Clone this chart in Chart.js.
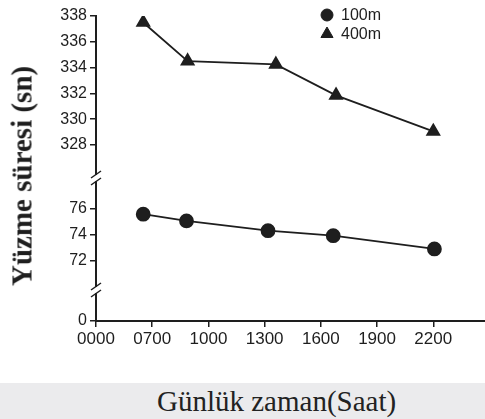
<!DOCTYPE html>
<html>
<head>
<meta charset="utf-8">
<script src="https://cdn.jsdelivr.net/npm/chart.js@4.4.1/dist/chart.umd.min.js"></script>
<style>
  html, body { margin: 0; padding: 0; background: #fff; }
  #wrap { position: relative; width: 485px; height: 419px; overflow: hidden; }
  #chartBox { position: absolute; left: 0; top: 0; width: 485px; height: 383px; }
  #ytitle { position: absolute; left: 22px; top: 176px; transform: translate(-50%, -50%) rotate(-90deg);
            font-family: "Liberation Serif", "Times New Roman", Times, serif; font-weight: bold; font-size: 29px;
            color: #1e1e1e; white-space: nowrap; }
  #band { position: absolute; left: 0; top: 383px; width: 485px; height: 36px; background: #ebebed; }
  #xtitle { position: absolute; left: 157px; top: 0; line-height: 36px; height: 36px;
            font-family: "Liberation Serif", "Times New Roman", Times, serif; font-size: 29px; color: #222; white-space: nowrap; }
</style>
</head>
<body>
<div id="wrap">
  <div id="chartBox"><canvas id="c"></canvas></div>
  <div id="ytitle">Yüzme süresi (sn)</div>
  <div id="band"><div id="xtitle">Günlük zaman(Saat)</div></div>
</div>
<script>
// ---- data ----
const xTickLabels = ['0000', '0700', '1000', '1300', '1600', '1900', '2200'];
const seriesNames = ['100m', '400m'];
// x positions in tick-index units (0 = 0000, 1 = 0700, ... 6 = 2200)
const x100 = [0.84, 1.61, 3.06, 4.22, 6.02];
const y100 = [75.6, 75.08, 74.33, 73.95, 72.93];
const x400 = [0.84, 1.63, 3.20, 4.27, 6.00];
const y400 = [337.5, 334.5, 334.25, 331.85, 329.05];
const topTicks = [328, 330, 332, 334, 336, 338];
const midTicks = [72, 74, 76];
const botTicks = [0];

const INK = '#1e1e1e';
const tickFont = { family: '"Liberation Sans", Arial, sans-serif', size: 16 };

function pts(xs, ys) { return xs.map((x, i) => ({ x: x, y: ys[i] })); }

function yScale(weight, stackWeight, min, max, ticksArr) {
  return {
    type: 'linear', position: 'left', stack: 'y', stackWeight: stackWeight, weight: weight,
    min: min, max: max,
    afterBuildTicks: s => { s.ticks = ticksArr.map(v => ({ value: v })); },
    afterFit: s => { s.width = 40; s.paddingTop = 0; s.paddingBottom = 0; },
    border: { display: true, color: INK, width: 2 },
    grid: { drawOnChartArea: false, drawTicks: true, tickLength: 6, color: INK, lineWidth: 1.5 },
    ticks: { color: INK, font: tickFont, padding: 3, autoSkip: false }
  };
}

const breakPlugin = {
  id: 'breaks',
  afterDraw(chart) {
    const ctx = chart.ctx;
    const s = chart.scales;
    const xAxis = s.yTop.right;
    const ys = [s.yTop.bottom, s.yMid.bottom];
    ctx.save();
    ys.forEach(b => {
      ctx.fillStyle = '#fff';
      ctx.fillRect(xAxis - 4, b - 3, 8, 6);
      ctx.strokeStyle = INK;
      ctx.lineWidth = 1.5;
      [-3.5, 3.5].forEach(d => {
        ctx.beginPath();
        ctx.moveTo(xAxis - 5, b + d + 3.5);
        ctx.lineTo(xAxis + 5, b + d - 3.5);
        ctx.stroke();
      });
    });
    ctx.restore();
  }
};

const legendPlugin = {
  id: 'customLegend',
  afterDraw(chart) {
    const ctx = chart.ctx;
    ctx.save();
    const items = [
      { style: 'circle', r: 6, y: 15, text: seriesNames[0] },
      { style: 'triangle', r: 7, y: 34, text: seriesNames[1] }
    ];
    items.forEach(it => {
      ctx.fillStyle = INK; ctx.strokeStyle = INK; ctx.lineWidth = 1;
      Chart.helpers.drawPoint(ctx, { pointStyle: it.style, radius: it.r, rotation: 0, borderWidth: 1 }, 327, it.y);
      ctx.fillStyle = INK;
      ctx.font = '16px "Liberation Sans", Arial, sans-serif';
      ctx.textBaseline = 'middle';
      ctx.textAlign = 'left';
      ctx.fillText(it.text, 341, it.y + 1);
    });
    ctx.restore();
  }
};

new Chart(document.getElementById('c'), {
  type: 'line',
  data: {
    datasets: [
      { label: seriesNames[0], data: pts(x100, y100), yAxisID: 'yMid',
        borderColor: INK, backgroundColor: INK, borderWidth: 1.8, pointStyle: 'circle',
        pointRadius: 6.5, pointBackgroundColor: INK, pointBorderColor: INK, tension: 0 },
      { label: seriesNames[1], data: pts(x400, y400), yAxisID: 'yTop',
        borderColor: INK, backgroundColor: INK, borderWidth: 1.8, pointStyle: 'triangle',
        pointRadius: 7, pointBackgroundColor: INK, pointBorderColor: INK, tension: 0 }
    ]
  },
  options: {
    responsive: true, maintainAspectRatio: false, animation: false,
    layout: { autoPadding: false, padding: { left: 56, top: 16, right: 0, bottom: 32 } },
    plugins: { legend: { display: false }, tooltip: { enabled: false } },
    scales: {
      x: {
        type: 'linear', min: 0, max: 6.92,
        afterBuildTicks: s => { s.ticks = xTickLabels.map((_, i) => ({ value: i })); },
        afterFit: s => { s.height = 30; s.paddingLeft = 0; s.paddingRight = 0; },
        border: { display: true, color: INK, width: 2 },
        grid: { drawOnChartArea: false, drawTicks: true, tickLength: 6, color: INK, lineWidth: 1.5 },
        ticks: { color: INK, font: { family: tickFont.family, size: 17 }, padding: 2, maxRotation: 0,
                 autoSkip: false, callback: v => xTickLabels[v] }
      },
      yTop: yScale(3, 162, 325.44, 338, topTicks),
      yMid: yScale(2, 112, 69.77, 78.385, midTicks),
      yBot: yScale(1, 31, 0, 2.385, botTicks)
    }
  },
  plugins: [breakPlugin, legendPlugin]
});
</script>
</body>
</html>
